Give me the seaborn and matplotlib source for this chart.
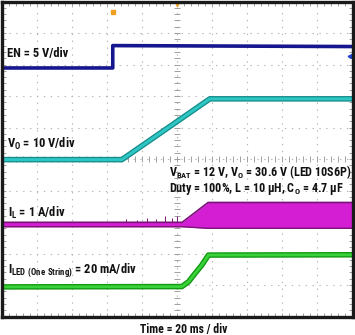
import numpy as np
import pandas as pd
import matplotlib
matplotlib.use("Agg")
import matplotlib.pyplot as plt
from matplotlib import font_manager
import seaborn as sns

# ---- data (x: time in divisions, y: screen divisions) ----
en_t = [0.0, 3.16, 3.16, 10.0]
en_v = [7.89, 7.89, 8.60, 8.57]

vo_t = [0.0, 3.42, 5.93, 10.0]
vo_v = [4.98, 4.98, 6.91, 6.91]

il_t = [0.0, 5.14, 5.88, 10.0]
il_hi = [2.99, 2.99, 3.62, 3.62]
il_lo = [2.85, 2.85, 2.80, 2.80]
il_spike_t = [3.55, 3.85, 4.15, 4.4, 4.65, 4.85, 5.0]
il_spike_v = [3.10, 3.06, 3.14, 3.10, 3.20, 3.12, 3.18]

iled_t = [0.0, 5.13, 5.32, 5.51, 5.70, 5.89, 10.0]
iled_v = [0.94, 0.95, 1.10, 1.37, 1.63, 1.95, 1.96]

trig_t = [3.17]
trig_v = [9.68]

labels = {
    "en": "EN = 5 V/div",
    "vo": "V$_{O}$ = 10 V/div",
    "il": "I$_{L}$ = 1 A/div",
    "iled": "I$_{LED\\ (One\\ String)}$ = 20 mA/div",
    "cond1": "V$_{BAT}$ = 12 V, V$_{O}$ = 30.6 V (LED 10S6P)",
    "cond2": "Duty = 100%, L = 10 \u00b5H, C$_{O}$ = 4.7 \u00b5F",
    "time": "Time = 20 ms / div",
}

sns.set_theme(style="white")
avail = {f.name for f in font_manager.fontManager.ttflist}
pref = ["Roboto Condensed", "Archivo Narrow", "PT Sans Narrow", "Liberation Sans Narrow",
        "Liberation Sans", "DejaVu Sans"]
fam = [f for f in pref if f in avail] or ["DejaVu Sans"]
plt.rcParams["font.family"] = fam
plt.rcParams["mathtext.default"] = "regular"

fig = plt.figure(figsize=(3.55, 3.35), dpi=100)
ax = fig.add_axes([2 / 355, 18.5 / 335, 350.5 / 355, 315 / 335])
ax.set_xlim(0, 10)
ax.set_ylim(0, 10)

# grid
ax.set_xticks(range(11))
ax.set_yticks(range(11))
ax.set_xticks(np.arange(0, 10.01, 0.2), minor=True)
ax.set_yticks(np.arange(0, 10.01, 0.2), minor=True)
ax.set_xticklabels([])
ax.set_yticklabels([])
ax.grid(True, which="major", color="#b4b4b4", linestyle=(0, (1.2, 5.0)), linewidth=0.8)
ax.tick_params(which="both", direction="in", length=3, width=0.7, color="#a0a0a0",
               top=True, right=True, bottom=True, left=True)
minor = np.arange(0, 10.01, 0.2)
ax.plot([5] * len(minor), minor, ls="none", marker="_", ms=5, mew=0.7, color="#a0a0a0")
ax.plot(minor, [5] * len(minor), ls="none", marker="|", ms=5, mew=0.7, color="#a0a0a0")

for s in ax.spines.values():
    s.set_linewidth(2.4)
    s.set_color("#1a1a1a")

# traces
df_en = pd.DataFrame({"t": en_t, "v": en_v})
sns.lineplot(data=df_en, x="t", y="v", ax=ax, sort=False, estimator=None,
             color="#16168e", linewidth=2.6)

df_vo = pd.DataFrame({"t": vo_t, "v": vo_v})
sns.lineplot(data=df_vo, x="t", y="v", ax=ax, sort=False, estimator=None,
             color="#148a8a", linewidth=4.0)
sns.lineplot(data=df_vo, x="t", y="v", ax=ax, sort=False, estimator=None,
             color="#2ec6c2", linewidth=2.2)

ax.fill_between(il_t, il_lo, il_hi, color="#d41ed4", linewidth=0)
ax.vlines(il_spike_t, [2.99] * len(il_spike_t), il_spike_v, color="#7a1478", linewidth=0.7)
df_ilh = pd.DataFrame({"t": il_t, "v": il_hi})
df_ill = pd.DataFrame({"t": il_t, "v": il_lo})
sns.lineplot(data=df_ilh, x="t", y="v", ax=ax, sort=False, estimator=None,
             color="#7a1478", linewidth=1.2)
sns.lineplot(data=df_ill, x="t", y="v", ax=ax, sort=False, estimator=None,
             color="#7a1478", linewidth=1.0)

df_iled = pd.DataFrame({"t": iled_t, "v": iled_v})
sns.lineplot(data=df_iled, x="t", y="v", ax=ax, sort=False, estimator=None,
             color="#139a13", linewidth=4.0)
sns.lineplot(data=df_iled, x="t", y="v", ax=ax, sort=False, estimator=None,
             color="#3ad23a", linewidth=2.0)

# scope markers
ax.plot(trig_t, trig_v, ls="none", marker="s", ms=3.5, color="#f0a020", clip_on=False)
ax.plot([5.0], [9.93], ls="none", marker="v", ms=3, color="#f0a020", clip_on=False)
ax.plot([9.93], [8.27], ls="none", marker="<", ms=3.5, color="#2040d0", clip_on=False)

ax.set_xlabel("")
ax.set_ylabel("")

fs = 9
kw = dict(fontsize=fs, fontweight="bold", color="#111111", va="baseline", ha="left")
ax.text(0.14, 8.23, labels["en"], **kw)
ax.text(0.14, 5.34, labels["vo"], **kw)
ax.text(0.18, 3.15, labels["il"], **kw)
ax.text(0.18, 1.35, labels["iled"], **kw)
kw2 = dict(fontsize=8.7, fontweight="bold", color="#111111", va="baseline", ha="left")
ax.text(4.76, 4.46, labels["cond1"], **kw2)
ax.text(4.76, 3.96, labels["cond2"], **kw2)
fig.text(183.5 / 355, 2.0 / 335, labels["time"], fontsize=8.5, fontweight="bold",
         color="#111111", ha="center", va="baseline")

fig.savefig("out.png", dpi=100)
